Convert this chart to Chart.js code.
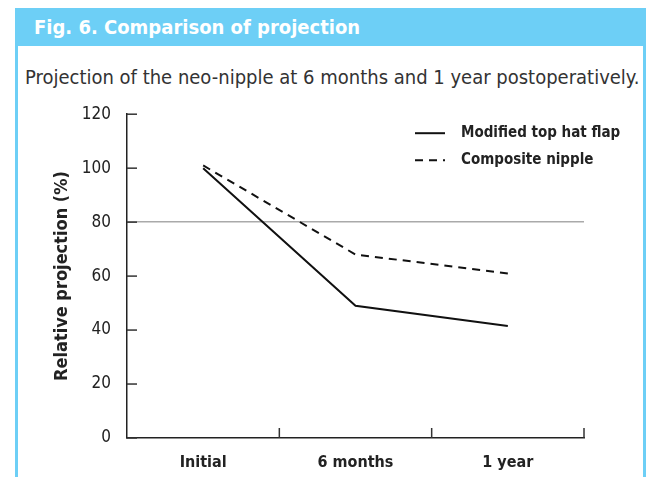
<!DOCTYPE html>
<html>
<head>
<meta charset="utf-8">
<script src="https://cdn.jsdelivr.net/npm/chart.js@4"></script>
<style>
  body { margin: 0; background: #fff; width: 663px; height: 477px; overflow: hidden; position: relative; }
  #frame { position: absolute; left: 15px; top: 8px; width: 625px; height: 480px; border: 3px solid #6dcff6; border-top: none; }
  #head { position: absolute; left: 15px; top: 8px; width: 631px; height: 38px; background: #6dcff6; }
  #head span { position: absolute; left: 19px; top: 7px; color: #fff; font: bold 20px "Liberation Sans Narrow", "DejaVu Sans Condensed", sans-serif; }
  #cap { position: absolute; left: 25px; top: 65px; color: #333; font: 20px "Liberation Sans Narrow", "DejaVu Sans Condensed", sans-serif; white-space: nowrap; }
  #wrap { position: absolute; left: 0; top: 88px; width: 663px; height: 389px; }
</style>
</head>
<body>
<div id="frame"></div>
<div id="head"><span>Fig. 6. Comparison of projection</span></div>
<div id="cap">Projection of the neo-nipple at 6 months and 1 year postoperatively.</div>
<div id="wrap"><canvas id="myChart"></canvas></div>
<script>
const categories = ['Initial', '6 months', '1 year'];
const topHatValues = [100, 49, 41.5];
const compositeValues = [101, 68, 61];
const yTicks = [0, 20, 40, 60, 80, 100, 120];

const fontFam = '"Liberation Sans Narrow", "DejaVu Sans Condensed", sans-serif';

// inward tick marks + little legend in top right
const extras = {
  id: 'extras',
  afterDatasetsDraw(chart) {
    const ctx = chart.ctx;
    const area = chart.chartArea;
    const xs = chart.scales.x;
    const ys = chart.scales.y;
    ctx.save();
    ctx.strokeStyle = '#333';
    ctx.lineWidth = 1.5;
    ys.ticks.forEach(function(t) {
      const py = ys.getPixelForValue(t.value);
      ctx.beginPath();
      ctx.moveTo(area.left, py);
      ctx.lineTo(area.left + 10, py);
      ctx.stroke();
    });
    for (let i = 0; i < categories.length; i++) {
      let px;
      if (i < categories.length - 1) {
        px = (xs.getPixelForTick(i) + xs.getPixelForTick(i + 1)) / 2;
      } else {
        px = area.right;
      }
      ctx.beginPath();
      ctx.moveTo(px, area.bottom);
      ctx.lineTo(px, area.bottom - 10);
      ctx.stroke();
    }
    // legend
    ctx.font = 'bold 15px ' + fontFam;
    ctx.fillStyle = '#222';
    ctx.textBaseline = 'middle';
    chart.data.datasets.forEach(function(ds, i) {
      const ly = area.top + 19 + i * 27;
      const lx = area.right - 169;
      ctx.strokeStyle = ds.borderColor;
      ctx.lineWidth = 2;
      ctx.setLineDash(ds.borderDash || []);
      ctx.beginPath();
      ctx.moveTo(lx, ly);
      ctx.lineTo(lx + 30, ly);
      ctx.stroke();
      ctx.setLineDash([]);
      ctx.fillText(ds.label, lx + 46, ly);
    });
    ctx.restore();
  }
};

const ctx = document.getElementById('myChart').getContext('2d');
const myChart = new Chart(ctx, {
  type: 'line',
  data: {
    labels: categories,
    datasets: [{
      label: 'Modified top hat flap',
      data: topHatValues,
      borderColor: '#111',
      borderWidth: 2,
      pointRadius: 0,
      tension: 0,
      fill: false
    }, {
      label: 'Composite nipple',
      data: compositeValues,
      borderColor: '#111',
      borderWidth: 2,
      borderDash: [8, 6],
      pointRadius: 0,
      tension: 0,
      fill: false
    }]
  },
  options: {
    responsive: true,
    maintainAspectRatio: false,
    animation: false,
    layout: { padding: { top: 2, right: 79, bottom: 0, left: 0 } },
    plugins: { legend: { display: false }, tooltip: { enabled: false } },
    scales: {
      x: {
        type: 'category',
        offset: true,
        grid: { display: false, drawTicks: false },
        border: { display: true, color: '#222', width: 1.5 },
        ticks: { padding: 15, color: '#222', font: { family: fontFam, size: 16, weight: 'bold' } },
        afterFit(s) { s.height = 39; }
      },
      y: {
        min: 0,
        max: 120,
        afterBuildTicks(s) { s.ticks = yTicks.map(v => ({ value: v })); },
        grid: {
          drawTicks: false,
          color: c => (c.tick && c.tick.value === 80) ? '#aaa' : 'rgba(0,0,0,0)',
          lineWidth: 1.5
        },
        border: { display: true, color: '#222', width: 1.5 },
        ticks: { padding: 16, color: '#222', font: { family: fontFam, size: 17 } },
        title: {
          display: true,
          text: 'Relative projection (%)',
          color: '#222',
          font: { family: fontFam, size: 18, weight: 'bold' },
          padding: { top: 52, bottom: 0 }
        },
        afterFit(s) { s.width = 127; }
      }
    }
  },
  plugins: [extras]
});
</script>
</body>
</html>
